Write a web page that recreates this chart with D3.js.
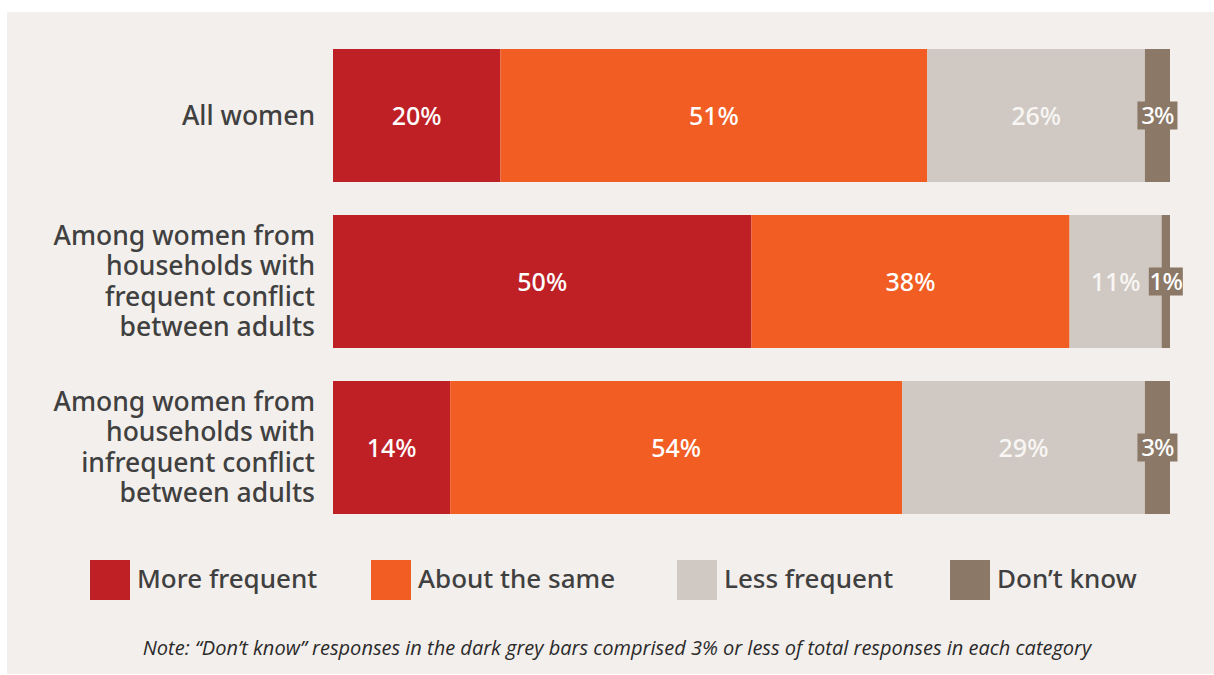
<!DOCTYPE html>
<html>
<head>
<meta charset="utf-8">
<script src="https://cdn.jsdelivr.net/npm/d3@7"></script>
<style>
  html, body { margin: 0; padding: 0; background: #ffffff; }
  svg { display: block; }
</style>
</head>
<body>
<svg id="chart" width="1214" height="675"></svg>
<script>
// Survey groups (one bar each), drawn top to bottom
const categories = [
  ["All women"],
  ["Among women from", "households with", "frequent conflict", "between adults"],
  ["Among women from", "households with", "infrequent conflict", "between adults"]
];
const categoryKeys = ["all", "frequent", "infrequent"];

// Response options, stacked left to right
const seriesNames = ["More frequent", "About the same", "Less frequent", "Don’t know"];
const moreFrequent  = [20, 50, 14];
const aboutTheSame  = [51, 38, 54];
const lessFrequent  = [26, 11, 29];
const dontKnow      = [3, 1, 3];
const seriesValues = [moreFrequent, aboutTheSame, lessFrequent, dontKnow];

const colors = ["#BE2026", "#F15D22", "#D0C9C3", "#8B7867"];
const noteText = "Note: “Don’t know” responses in the dark grey bars comprised 3% or less of total responses in each category";

const svg = d3.select("#chart");
const W = 1214, H = 675;

// background panel
svg.append("rect").attr("x", 7).attr("y", 12).attr("width", W - 7).attr("height", 662)
  .attr("fill", "#F3EFEC");

const x = d3.scaleLinear().domain([0, 100]).range([333, 1170]);
const y = d3.scaleBand().domain(categoryKeys).range([49, 514]).paddingInner(33 / 166).paddingOuter(0);

// build stack input rows
const rows = categoryKeys.map((k, i) => {
  const r = { key: k };
  seriesNames.forEach((s, j) => { r[s] = seriesValues[j][i]; });
  return r;
});
const stacked = d3.stack().keys(seriesNames)(rows);

const font = "'Noto Sans', 'DejaVu Sans', sans-serif";

const layers = svg.append("g").selectAll("g").data(stacked).join("g")
  .attr("fill", (d, i) => colors[i]);

layers.selectAll("rect").data(d => d).join("rect")
  .attr("x", d => x(d[0]))
  .attr("y", d => y(d.data.key))
  .attr("width", d => x(d[1]) - x(d[0]))
  .attr("height", y.bandwidth());

// value labels
const labelG = svg.append("g");
stacked.forEach((layer, si) => {
  layer.forEach(d => {
    const cx = (x(d[0]) + x(d[1])) / 2;
    const cy = y(d.data.key) + y.bandwidth() / 2;
    const v = d[1] - d[0];
    const g = labelG.append("g");
    if (si === 3) {
      // thin segment: label sits on a dark tab
      const bw = v < 2 ? 34 : 40;
      g.append("rect").attr("x", cx - bw / 2).attr("y", cy - 14).attr("width", bw).attr("height", 28)
        .attr("fill", colors[3]);
    }
    g.append("text")
      .attr("x", cx).attr("y", cy)
      .attr("dy", "0.36em")
      .attr("text-anchor", "middle")
      .attr("font-family", font)
      .attr("font-weight", 500)
      .attr("font-size", si === 3 ? 24 : 25)
      .attr("fill", si === 2 ? "#F8F6F4" : "#ffffff")
      .attr("letter-spacing", si === 3 ? -0.8 : 0)
      .text(v + "%");
  });
});

// category labels
const lineH = 30.5;
categoryKeys.forEach((k, i) => {
  const lines = categories[i];
  const cy = y(k) + y.bandwidth() / 2 - 0.5;
  const t = svg.append("text")
    .attr("text-anchor", "end")
    .attr("font-family", font)
    .attr("font-weight", 500)
    .attr("font-size", 26.5)
    .attr("fill", "#404040");
  lines.forEach((ln, j) => {
    t.append("tspan")
      .attr("x", 315)
      .attr("y", cy + (j - (lines.length - 1) / 2) * lineH)
      .attr("dy", "0.36em")
      .text(ln);
  });
});

// legend
const legendX = [90, 371, 677, 950];
const legend = svg.append("g");
seriesNames.forEach((s, i) => {
  legend.append("rect").attr("x", legendX[i]).attr("y", 560).attr("width", 40).attr("height", 40)
    .attr("fill", colors[i]);
  legend.append("text")
    .attr("x", legendX[i] + 47).attr("y", 579)
    .attr("dy", "0.36em")
    .attr("font-family", font)
    .attr("font-weight", 500)
    .attr("font-size", 26)
    .attr("fill", "#404040")
    .text(s);
});

// footnote
svg.append("text")
  .attr("x", 617).attr("y", 648)
  .attr("dy", "0.36em")
  .attr("text-anchor", "middle")
  .attr("font-family", "'Open Sans', 'Liberation Sans', sans-serif")
  .attr("font-style", "italic")
  .attr("font-size", 20)
  .attr("fill", "#2a2a2a")
  .text(noteText);
</script>
</body>
</html>
